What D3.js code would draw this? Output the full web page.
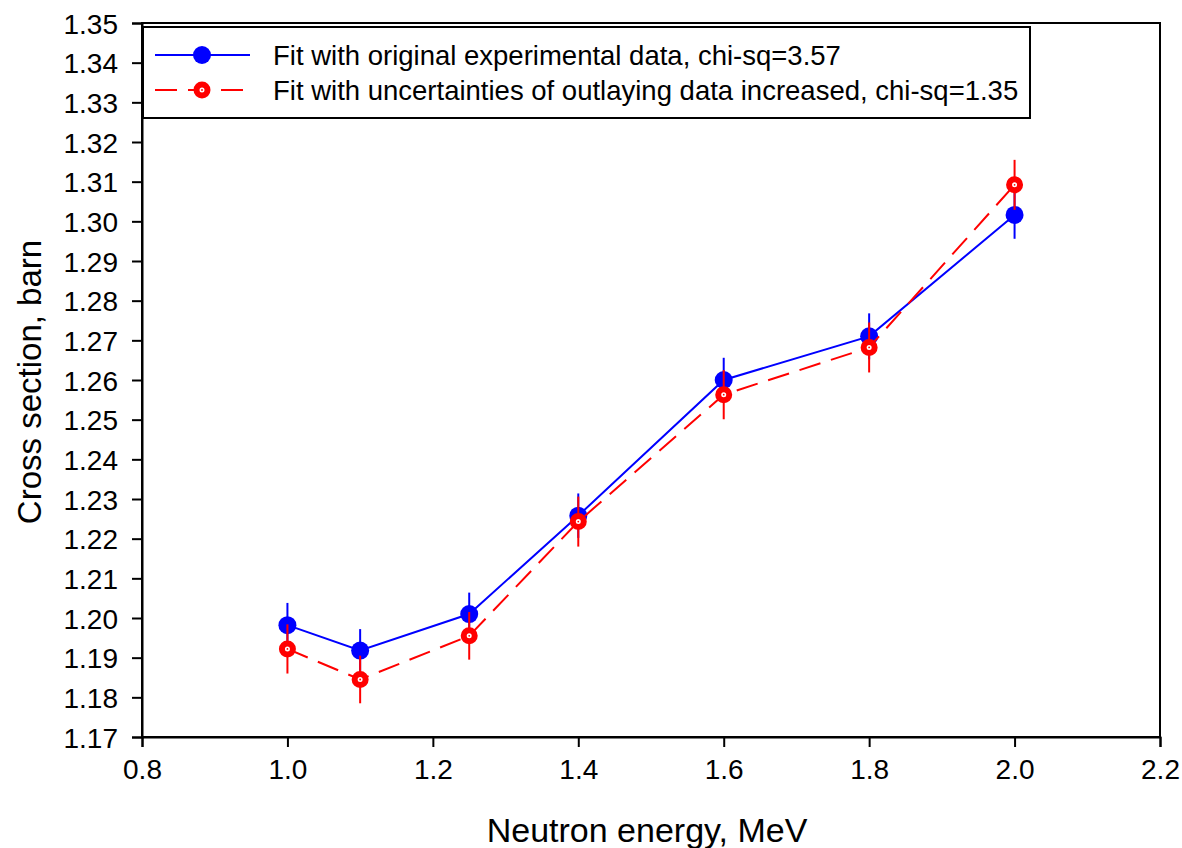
<!DOCTYPE html>
<html>
<head>
<meta charset="utf-8">
<script src="https://cdn.jsdelivr.net/npm/d3@7"></script>
<style>
  html, body { margin: 0; padding: 0; background: #fff; }
  svg { display: block; font-family: "Liberation Sans", Arial, sans-serif; }
</style>
</head>
<body>
<svg id="chart" width="1182" height="848"></svg>
<script>
// ---- data ----
const energy = [1.0, 1.1, 1.25, 1.4, 1.6, 1.8, 2.0];
const origValues = [1.1982, 1.1918, 1.2010, 1.2258, 1.2600, 1.2710, 1.3016];
const origErrors = [0.0056, 0.0054, 0.0054, 0.0056, 0.0056, 0.0058, 0.0060];
const incrValues = [1.1922, 1.1845, 1.1955, 1.2243, 1.2563, 1.2682, 1.3092];
const incrErrors = [0.0062, 0.0060, 0.0060, 0.0063, 0.0062, 0.0063, 0.0063];
const xTicks = [0.8, 1.0, 1.2, 1.4, 1.6, 1.8, 2.0, 2.2];
const yTicks = [1.17, 1.18, 1.19, 1.20, 1.21, 1.22, 1.23, 1.24, 1.25, 1.26, 1.27, 1.28, 1.29, 1.30, 1.31, 1.32, 1.33, 1.34, 1.35];
const legendLabels = [
  "Fit with original experimental data, chi-sq=3.57",
  "Fit with uncertainties of outlaying data increased, chi-sq=1.35"
];
const xTitle = "Neutron energy, MeV";
const yTitle = "Cross section, barn";

// ---- layout ----
const L = 142, R = 1160, T = 23, B = 737;
const svg = d3.select("#chart");
const x = d3.scaleLinear().domain([0.8, 2.2]).range([L, R]);
const y = d3.scaleLinear().domain([1.17, 1.35]).range([B, T]);

// frame
svg.append("rect").attr("x", L).attr("y", T).attr("width", R - L).attr("height", B - T)
  .attr("fill", "none").attr("stroke", "#000").attr("stroke-width", 2);

// axes
const xAxis = d3.axisBottom(x).tickValues(xTicks).tickFormat(d3.format(".1f")).tickSizeOuter(0).tickSize(10).tickPadding(12);
const gx = svg.append("g").attr("transform", `translate(0,${B})`).call(xAxis);
const yAxis = d3.axisLeft(y).tickValues(yTicks).tickFormat(d3.format(".2f")).tickSizeOuter(0).tickSize(10).tickPadding(14);
const gy = svg.append("g").attr("transform", `translate(${L},0)`).call(yAxis);
[gx, gy].forEach(g => {
  g.select(".domain").attr("stroke", "#000").attr("stroke-width", 2);
  g.selectAll(".tick line").attr("stroke", "#000").attr("stroke-width", 2);
  g.selectAll(".tick text").attr("fill", "#000").style("font-size", "28px")
    .style("font-family", '"Liberation Sans", Arial, sans-serif');
});
gy.selectAll(".tick text").attr("dy", "0.36em");

// titles
svg.append("text").attr("x", (L + R) / 2 - 4).attr("y", 842).attr("text-anchor", "middle")
  .style("font-size", "34px").text(xTitle);
svg.append("text").attr("transform", `translate(41,${(T + B) / 2 + 2}) rotate(-90)`)
  .attr("text-anchor", "middle").style("font-size", "33px").text(yTitle);

// series
const s1 = energy.map((e, i) => ({ x: e, y: origValues[i], err: origErrors[i] }));
const s2 = energy.map((e, i) => ({ x: e, y: incrValues[i], err: incrErrors[i] }));
const line = d3.line().x(d => x(d.x)).y(d => y(d.y));

const plot = svg.append("g");
// blue
plot.append("path").datum(s1).attr("d", line).attr("fill", "none").attr("stroke", "#0000ff").attr("stroke-width", 2);
plot.selectAll(".eb1").data(s1).join("line")
  .attr("x1", d => x(d.x)).attr("x2", d => x(d.x))
  .attr("y1", d => y(d.y - d.err)).attr("y2", d => y(d.y + d.err))
  .attr("stroke", "#0000ff").attr("stroke-width", 2);
plot.selectAll(".m1").data(s1).join("circle")
  .attr("cx", d => x(d.x)).attr("cy", d => y(d.y)).attr("r", 9).attr("fill", "#0000ff");
// red
plot.append("path").datum(s2).attr("d", line).attr("fill", "none").attr("stroke", "#ff0000")
  .attr("stroke-width", 2).attr("stroke-dasharray", "22,11");
plot.selectAll(".eb2").data(s2).join("line")
  .attr("x1", d => x(d.x)).attr("x2", d => x(d.x))
  .attr("y1", d => y(d.y - d.err)).attr("y2", d => y(d.y + d.err))
  .attr("stroke", "#ff0000").attr("stroke-width", 2);
plot.selectAll(".m2").data(s2).join("circle")
  .attr("cx", d => x(d.x)).attr("cy", d => y(d.y)).attr("r", 5.5)
  .attr("fill", "#fff").attr("stroke", "#ff0000").attr("stroke-width", 6);
plot.selectAll(".m2c").data(s2).join("circle")
  .attr("cx", d => x(d.x)).attr("cy", d => y(d.y)).attr("r", 0.9).attr("fill", "#ff0000");

// legend
const lg = svg.append("g");
lg.append("rect").attr("x", 143).attr("y", 27).attr("width", 887).attr("height", 91)
  .attr("fill", "#fff").attr("stroke", "#000").attr("stroke-width", 2);
const rows = [55, 90];
// blue row
lg.append("line").attr("x1", 155).attr("x2", 250).attr("y1", rows[0]).attr("y2", rows[0])
  .attr("stroke", "#0000ff").attr("stroke-width", 2);
lg.append("circle").attr("cx", 202).attr("cy", rows[0]).attr("r", 9).attr("fill", "#0000ff");
// red row
lg.append("line").attr("x1", 155).attr("x2", 250).attr("y1", rows[1]).attr("y2", rows[1])
  .attr("stroke", "#ff0000").attr("stroke-width", 2).attr("stroke-dasharray", "22,11");
lg.append("circle").attr("cx", 202).attr("cy", rows[1]).attr("r", 5.5)
  .attr("fill", "#fff").attr("stroke", "#ff0000").attr("stroke-width", 6);
lg.append("circle").attr("cx", 202).attr("cy", rows[1]).attr("r", 0.9).attr("fill", "#ff0000");
legendLabels.forEach((t, i) => {
  lg.append("text").attr("x", 273).attr("y", rows[i] + 10).style("font-size", "27.5px").text(t);
});
</script>
</body>
</html>
